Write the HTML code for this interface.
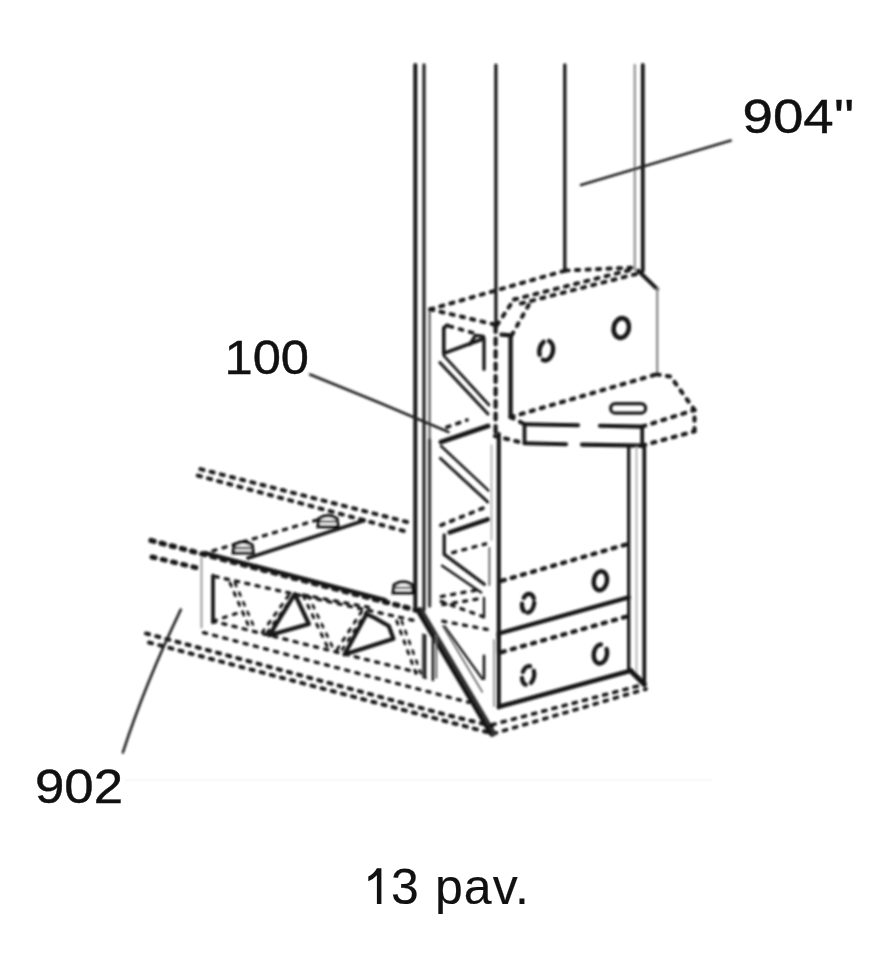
<!DOCTYPE html>
<html><head><meta charset="utf-8"><style>
html,body{margin:0;padding:0;background:#fff;width:883px;height:972px;overflow:hidden}
svg{position:absolute;left:0;top:0}
.s{fill:none;stroke:#141414;stroke-width:3;stroke-linecap:round;stroke-linejoin:round}
.t{fill:none;stroke:#333;stroke-width:1.5}
.d{fill:none;stroke:#141414;stroke-width:3.4;stroke-dasharray:3.2 7.3;stroke-linecap:round}
text{font-family:"Liberation Sans",sans-serif;fill:#111;stroke:#111;stroke-width:0.45}
</style></head><body>
<svg width="883" height="972" viewBox="0 0 883 972">
<defs><filter id="bl" x="-5%" y="-5%" width="110%" height="110%"><feGaussianBlur stdDeviation="0.8"/></filter></defs>
<g filter="url(#bl)">
<polyline class="s" points="415.3,65.0 415.3,610.0" style="stroke-width:3.96;"/>
<polyline class="s" points="424.0,65.0 424.0,610.0" style="stroke-width:3.30;stroke:#262626;"/>
<polyline class="s" points="429.6,309.5 429.6,440.0" style="stroke-width:2.47;stroke:#666;"/>
<polyline class="s" points="429.6,440.0 429.6,606.0" style="stroke-width:3.30;stroke:#3a3a3a;"/>
<polyline class="s" points="495.9,65.0 495.9,325.0" style="stroke-width:3.13;"/>
<polyline class="d" points="495.6,326.0 495.6,437.0" style="stroke-width:4.12;stroke-dasharray:6 6.5;"/>
<polyline class="s" points="564.8,65.0 564.8,271.0" style="stroke-width:3.30;"/>
<polyline class="s" points="634.8,65.0 634.8,270.0" style="stroke-width:2.47;stroke:#999;"/>
<polyline class="s" points="642.8,65.0 642.8,271.0" style="stroke-width:3.79;"/>
<polyline class="d" points="430.2,309.3 565.5,270.5" style="stroke-width:3.96;"/>
<polyline class="d" points="565.5,270.5 636.0,267.5" style="stroke-width:3.96;"/>
<polyline class="d" points="430.2,309.3 497.0,325.1" style="stroke-width:3.96;"/>
<polyline class="d" points="497.0,325.1 514.0,299.5" style="stroke-width:3.96;"/>
<polyline class="d" points="514.0,299.5 636.0,268.5" style="stroke-width:3.96;"/>
<polyline class="d" points="521.0,303.5 636.0,274.0" style="stroke-width:3.96;"/>
<polyline class="d" points="528.7,305.0 511.7,335.3" style="stroke-width:3.96;"/>
<polyline class="s" points="501.5,334.7 510.6,335.3 510.6,417.1" style="stroke-width:4.29;"/>
<polyline class="s" points="638.0,270.5 657.2,289.1" style="stroke-width:3.96;"/>
<polyline class="s" points="657.2,289.1 657.2,374.0" style="stroke-width:2.31;stroke:#888;"/>
<ellipse class="s" cx="546.2" cy="350.5" rx="6.8" ry="10" transform="rotate(10 546.2 350.5)" style="stroke-width:4.46;stroke-dasharray:18 6 14 6;stroke-dashoffset:3"/>
<ellipse class="s" cx="621.3" cy="328" rx="7.6" ry="10" transform="rotate(12 621.3 328)" style="stroke-width:4.62;"/>
<polyline class="d" points="510.6,417.1 656.5,374.3" style="stroke-width:4.12;"/>
<polyline class="d" points="656.5,374.3 670.7,376.6 694.5,410.0 694.5,431.3" style="stroke-width:4.12;"/>
<polyline class="d" points="642.2,426.6 694.5,410.0" style="stroke-width:4.12;"/>
<polyline class="d" points="642.2,445.6 694.5,431.3" style="stroke-width:4.12;"/>
<polyline class="s" points="524.5,424.2 578.0,425.3" style="stroke-width:4.12;"/>
<polyline class="s" points="600.0,425.8 642.2,426.6" style="stroke-width:4.12;"/>
<polyline class="s" points="524.5,424.2 524.5,443.2" style="stroke-width:3.79;"/>
<polyline class="s" points="524.5,443.2 566.0,444.3" style="stroke-width:4.12;"/>
<polyline class="s" points="582.0,444.6 642.2,445.6" style="stroke-width:4.12;"/>
<polyline class="s" points="642.2,426.6 642.2,445.6" style="stroke-width:3.79;"/>
<polyline class="d" points="510.6,417.1 524.5,424.2" style="stroke-width:3.96;"/>
<polyline class="d" points="494.8,436.1 524.5,443.2" style="stroke-width:3.96;"/>
<rect x="610.6" y="403.6" width="35" height="9.5" rx="4.7" fill="none" stroke="#1c1c1c" stroke-width="3.2"/>
<polyline class="s" points="498.8,434.0 498.8,707.5" style="stroke-width:4.12;"/>
<polyline class="s" points="491.5,445.0 491.5,540.0" style="stroke-width:1.65;stroke:#aaa;"/>
<polyline class="s" points="494.0,640.0 494.0,706.0" style="stroke-width:1.98;stroke:#999;"/>
<polyline class="s" points="628.7,447.0 628.7,671.0" style="stroke-width:3.30;"/>
<polyline class="s" points="636.5,447.0 636.5,676.0" style="stroke-width:1.65;stroke:#aaa;"/>
<polyline class="s" points="644.3,447.0 644.3,685.0" style="stroke-width:3.79;"/>
<polyline class="d" points="501.7,580.8 628.7,543.7" style="stroke-width:4.29;"/>
<polyline class="s" points="498.8,633.5 628.7,597.4" style="stroke-width:4.29;"/>
<polyline class="s" points="498.8,633.5 498.8,653.0" style="stroke-width:4.29;"/>
<polyline class="d" points="501.7,652.1 628.7,616.0" style="stroke-width:4.29;"/>
<polyline class="s" points="498.8,706.8 630.6,670.7" style="stroke-width:4.62;"/>
<polyline class="s" points="630.6,670.7 644.3,684.3" style="stroke-width:5.28;"/>
<ellipse class="s" cx="528.1" cy="603.3" rx="6.0" ry="9.5" transform="rotate(10 528.1 603.3)" style="stroke-width:4.29;stroke-dasharray:14 4 8 6;stroke-dashoffset:3"/>
<ellipse class="s" cx="600.4" cy="580.8" rx="6.6" ry="9.6" transform="rotate(10 600.4 580.8)" style="stroke-width:4.46;"/>
<ellipse class="s" cx="528.1" cy="675.5" rx="6.0" ry="9.5" transform="rotate(10 528.1 675.5)" style="stroke-width:4.29;stroke-dasharray:10 6 8 6;stroke-dashoffset:3"/>
<ellipse class="s" cx="600.4" cy="654" rx="6.6" ry="9.6" transform="rotate(10 600.4 654)" style="stroke-width:4.46;stroke-dasharray:40 8;stroke-dashoffset:3"/>
<polyline class="d" points="492.0,724.8 644.3,684.3" style="stroke-width:3.63;"/>
<polyline class="d" points="493.4,733.7 646.0,689.0" style="stroke-width:3.63;"/>
<polyline class="s" points="447.2,325.1 443.8,328.0 443.8,353.4 483.4,338.7" style="stroke-width:3.63;"/>
<polyline class="d" points="449.4,326.2 473.2,333.0" style="stroke-width:3.63;"/>
<polyline class="s" points="469.8,344.4 475.5,335.3 483.4,336.4 484.0,338.7 484.0,369.3" style="stroke-width:3.30;"/>
<polyline class="s" points="443.8,355.7 489.0,405.0" style="stroke-width:2.64;"/>
<polyline class="s" points="439.8,362.5 488.0,414.0" style="stroke-width:2.97;"/>
<polyline class="s" points="441.0,442.0 488.0,426.0" style="stroke-width:4.95;"/>
<polyline class="d" points="446.8,427.2 467.0,420.0" style="stroke-width:3.63;"/>
<polyline class="s" points="441.0,446.0 488.6,490.6" style="stroke-width:2.47;"/>
<polyline class="s" points="440.3,458.2 487.9,502.1" style="stroke-width:2.80;"/>
<polyline class="d" points="441.0,525.2 487.1,506.5" style="stroke-width:3.63;"/>
<polyline class="s" points="449.7,532.4 487.9,519.4" style="stroke-width:4.62;"/>
<polyline class="s" points="444.2,535.0 444.2,554.4 484.3,584.2" style="stroke-width:3.30;"/>
<polyline class="s" points="489.4,548.0 489.4,585.0" style="stroke-width:1.98;stroke:#666;"/>
<polyline class="d" points="452.6,552.6 485.7,543.9" style="stroke-width:3.30;"/>
<polyline class="s" points="442.1,565.7 481.2,592.4" style="stroke-width:2.47;"/>
<polyline class="d" points="441.2,596.5 477.4,589.9" style="stroke-width:3.30;"/>
<polyline class="d" points="442.8,604.7 484.0,598.0" style="stroke-width:3.30;"/>
<polyline class="d" points="441.2,601.4 484.0,617.0" style="stroke-width:3.30;"/>
<polyline class="s" points="484.0,598.0 484.0,616.2" style="stroke-width:2.31;"/>
<polyline class="d" points="442.8,621.2 487.2,629.4" style="stroke-width:3.30;"/>
<polyline class="s" points="444.4,626.1 482.3,678.8" style="stroke-width:2.31;"/>
<polyline class="s" points="484.0,655.7 484.0,678.8" style="stroke-width:2.64;"/>
<polyline class="s" points="423.0,634.3 423.0,677.1 426.0,678.0" style="stroke-width:2.31;stroke:#555;"/>
<polyline class="s" points="432.9,634.0 432.9,680.0" style="stroke-width:2.47;"/>
<polyline class="s" points="419.8,611.0 492.2,733.1" style="stroke-width:7.59;stroke:#333;"/>
<polyline class="s" points="418.5,611.5 490.5,733.0" style="stroke-width:2.64;stroke:#111;"/>
<polyline class="s" points="442.8,626.0 482.3,692.0" style="stroke-width:1.65;stroke:#666;"/>
<polyline class="d" points="200.4,469.1 414.0,523.8" style="stroke-width:3.96;"/>
<polyline class="d" points="197.8,475.6 406.2,531.6" style="stroke-width:3.96;"/>
<polyline class="d" points="151.0,540.5 421.4,611.5" style="stroke-width:5.28;"/>
<polyline class="s" points="205.0,553.0 385.0,600.0" style="stroke-width:4.29;"/>
<polyline class="d" points="152.0,557.0 200.7,568.7" style="stroke-width:4.95;"/>
<polyline class="d" points="202.9,553.8 322.0,518.5" style="stroke-width:3.30;"/>
<polyline class="s" points="248.1,558.1 364.3,520.4" style="stroke-width:3.63;"/>
<path d="M233.2,553 L234.2,545 Q243.2,539 252.2,545 L253.2,553 Z" fill="#fff" stroke="#111" stroke-width="3.2"/>
<polyline class="s" points="235.2,548.0 251.2,548.0" style="stroke-width:2.31;stroke:#444;"/>
<path d="M318,526.6 L319,518.6 Q328,512.6 337,518.6 L338,526.6 Z" fill="#fff" stroke="#111" stroke-width="3.2"/>
<polyline class="s" points="320.0,521.6 336.0,521.6" style="stroke-width:2.31;stroke:#444;"/>
<path d="M393.2,592.8 L394.2,584.8 Q403.2,578.8 412.2,584.8 L413.2,592.8 Z" fill="#fff" stroke="#111" stroke-width="3.2"/>
<polyline class="s" points="395.2,587.8 411.2,587.8" style="stroke-width:2.31;stroke:#444;"/>
<polyline class="d" points="303.6,595.0 370.6,607.7" style="stroke-width:3.30;"/>
<polyline class="s" points="201.5,558.0 201.5,627.6" style="stroke-width:1.98;stroke:#999;"/>
<polyline class="s" points="213.0,575.5 213.0,622.4" style="stroke-width:3.63;"/>
<polyline class="d" points="215.0,576.5 416.5,621.0" style="stroke-width:3.30;"/>
<polyline class="d" points="213.3,621.0 241.0,612.0" style="stroke-width:2.97;"/>
<polyline class="d" points="212.6,621.1 416.5,672.1" style="stroke-width:3.30;"/>
<polyline class="d" points="203.5,632.6 468.9,702.4" style="stroke-width:3.30;"/>
<polyline class="d" points="146.0,633.4 445.0,714.5 492.0,726.0" style="stroke-width:3.96;"/>
<polyline class="d" points="149.0,642.5 445.0,721.0 493.4,733.7" style="stroke-width:3.96;"/>
<polyline class="s" points="294.8,594.2 269.3,635.3 308.9,624.0 294.8,594.2" style="stroke-width:4.12;"/>
<polyline class="s" points="366.6,614.1 344.4,654.5 393.5,638.7 388.8,626.0 374.0,617.5 366.6,614.1" style="stroke-width:4.12;"/>
<polyline class="d" points="230.0,583.0 249.5,628.0" style="stroke-width:2.97;"/>
<polyline class="d" points="235.0,583.0 254.5,628.0" style="stroke-width:2.64;"/>
<polyline class="d" points="262.2,632.5 290.5,592.8" style="stroke-width:2.97;"/>
<polyline class="d" points="267.2,632.5 295.5,592.8" style="stroke-width:2.64;"/>
<polyline class="d" points="303.3,595.7 328.7,649.5" style="stroke-width:2.97;"/>
<polyline class="d" points="308.3,595.7 333.7,649.5" style="stroke-width:2.64;"/>
<polyline class="d" points="337.2,649.5 362.7,609.8" style="stroke-width:2.97;"/>
<polyline class="d" points="342.2,649.5 367.7,609.8" style="stroke-width:2.64;"/>
<polyline class="d" points="396.7,621.1 416.5,675.0" style="stroke-width:2.97;"/>
<polyline class="d" points="401.7,621.1 421.5,675.0" style="stroke-width:2.64;"/>
<polyline class="s" points="425.0,635.3 425.0,677.8" style="stroke-width:2.64;"/>
<polyline class="s" points="436.3,635.3 436.3,677.8" style="stroke-width:1.98;stroke:#666;"/>
<polyline class="s" points="581.0,185.0 730.8,140.6" style="stroke-width:2.56;stroke:#222;"/>
<polyline points="125,780 712,780" style="fill:none;stroke:#f6f6f6;stroke-width:2"/>
<path class="s" d="M310.1,374.5 Q379,402 448.5,432" style="stroke-width:2.6;stroke:#222"/>
<path class="s" d="M180.8,609.6 Q145,684 122.9,752.4" style="stroke-width:2.6;stroke:#222"/>
</g>
<text x="742.5" y="132.8" font-size="49" textLength="112" lengthAdjust="spacingAndGlyphs">904''</text>
<text x="224.5" y="373.8" font-size="49" textLength="84.5" lengthAdjust="spacingAndGlyphs">100</text>
<text x="35" y="803.3" font-size="49" textLength="88" lengthAdjust="spacingAndGlyphs">902</text>
<path d="M376.9,868.2 L381.4,868.2 L381.4,903.9 L376.9,903.9 L376.9,875.2 Q373,879.5 368.3,881.3 L368.3,876.6 Q374,873.5 376.9,868.2 Z" fill="#111"/>
<text x="391" y="904" font-size="50" textLength="138" lengthAdjust="spacing" style="stroke-width:0.15">3 pav.</text>
</svg>
</body></html>
